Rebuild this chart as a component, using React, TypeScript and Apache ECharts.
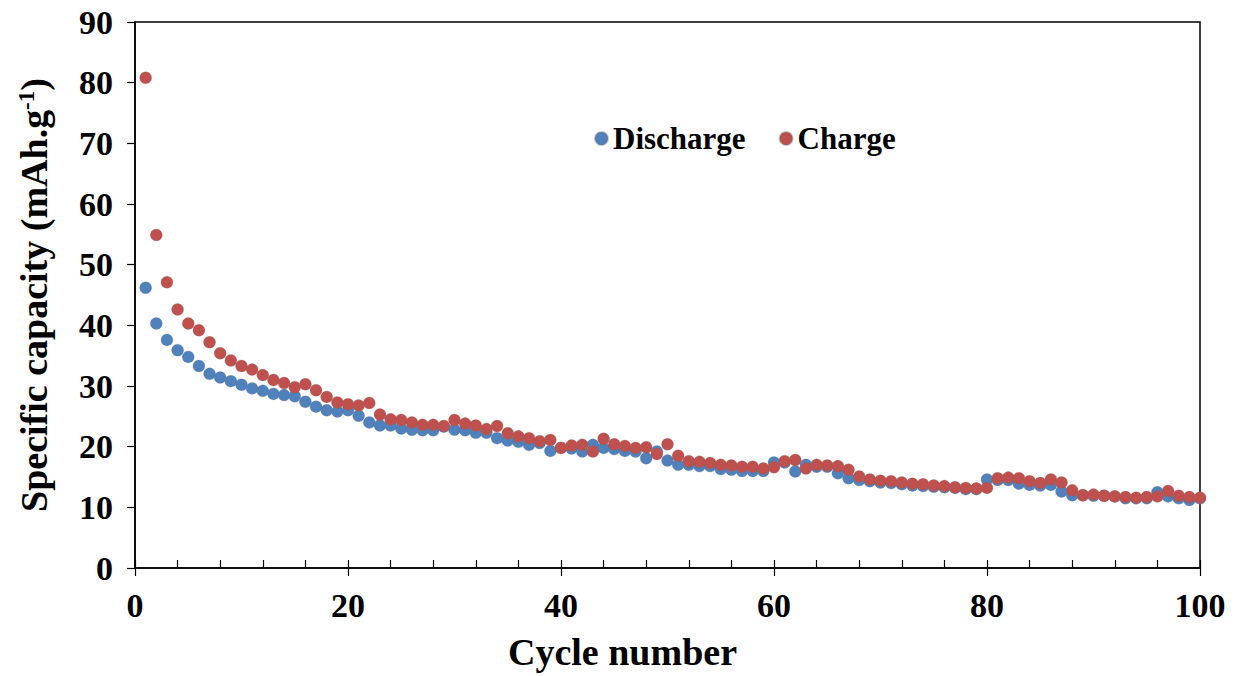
import React, { useEffect, useRef } from "react";
import * as echarts from "echarts";

const discharge: number[] = [
  46.2, 40.3, 37.6, 35.9, 34.8, 33.3, 32.0, 31.4, 30.8, 30.2,
  29.6, 29.2, 28.7, 28.5, 28.3, 27.4, 26.6, 26.0, 25.8, 26.0,
  25.1, 24.0, 23.5, 23.5, 23.0, 22.8, 22.7, 22.7, 23.3, 22.8,
  22.7, 22.3, 22.3, 21.4, 21.0, 20.8, 20.3, 20.6, 19.3, 19.8,
  19.7, 19.2, 20.3, 19.8, 19.6, 19.3, 19.2, 18.1, 19.2, 17.7,
  17.0, 17.0, 16.8, 16.8, 16.3, 16.2, 16.0, 16.0, 16.0, 17.4,
  17.4, 15.9, 17.0, 16.7, 16.7, 15.6, 14.8, 14.5, 14.3, 14.1,
  14.0, 13.8, 13.6, 13.5, 13.4, 13.3, 13.2, 13.0, 13.0, 14.6,
  14.5, 14.5, 13.9, 13.7, 13.6, 13.7, 12.6, 12.0, 12.0, 11.9,
  11.9, 11.8, 11.5, 11.5, 11.5, 12.5, 11.8, 11.5, 11.2, 11.5,
];

const charge: number[] = [
  80.8, 54.9, 47.1, 42.6, 40.3, 39.2, 37.2, 35.4, 34.2, 33.3,
  32.7, 31.8, 31.0, 30.5, 29.8, 30.3, 29.3, 28.2, 27.3, 27.0,
  26.8, 27.2, 25.3, 24.5, 24.4, 24.0, 23.6, 23.6, 23.4, 24.4,
  23.8, 23.5, 22.9, 23.4, 22.2, 21.7, 21.4, 20.9, 21.1, 19.8,
  20.2, 20.3, 19.2, 21.3, 20.4, 20.1, 19.8, 19.9, 18.8, 20.4,
  18.5, 17.6, 17.5, 17.3, 17.0, 16.9, 16.7, 16.7, 16.4, 16.6,
  17.6, 17.8, 16.4, 17.0, 16.9, 16.8, 16.2, 15.1, 14.6, 14.4,
  14.3, 14.1, 13.9, 13.8, 13.6, 13.5, 13.3, 13.2, 13.1, 13.2,
  14.8, 14.9, 14.8, 14.3, 14.0, 14.6, 14.1, 12.8, 12.0, 12.1,
  11.9, 11.8, 11.7, 11.6, 11.7, 11.8, 12.7, 11.9, 11.7, 11.6,
];

const seriesNames = ["Discharge", "Charge"];
const xAxisTitle = "Cycle number";
const yAxisTitle = "Specific capacity (mAh.g{sup|-1})";

const FONT = "'Liberation Serif', 'Times New Roman', serif";
const BLUE = "#4F81BD";
const RED = "#C0504D";

export default function App() {
  const ref = useRef<HTMLDivElement>(null);
  useEffect(() => {
    if (!ref.current) return;
    document.body.style.margin = "0";
    document.body.style.overflow = "hidden";
    const chart = echarts.init(ref.current, null, { renderer: "svg" });
    const toPairs = (arr: number[]) => arr.map((v, i) => [i + 1, v]);
    chart.setOption({
      animation: false,
      backgroundColor: "#ffffff",
      grid: {
        left: 135,
        right: 38,
        top: 22,
        bottom: 108,
        containLabel: false,
        outerBoundsMode: "none",
        show: true,
        borderColor: "#000",
        borderWidth: 1.5,
        backgroundColor: "transparent",
      },
      legend: {
        left: 589,
        top: 118,
        itemGap: 33,
        itemWidth: 13,
        itemHeight: 13,
        icon: "circle",
        textStyle: { fontFamily: FONT, fontWeight: "bold", fontSize: 31, color: "#000" },
        data: seriesNames,
      },
      xAxis: [
        {
          type: "value",
          position: "bottom",
          min: 0,
          max: 100,
          interval: 20,
          name: xAxisTitle,
          nameLocation: "middle",
          nameGap: 65,
          nameTextStyle: {
            fontFamily: FONT,
            fontWeight: "bold",
            fontSize: 38,
            color: "#000",
            padding: [0, 90, 0, 0],
          },
          axisLine: { lineStyle: { color: "#000", width: 1.5 } },
          axisTick: { show: true, inside: false, length: 8, lineStyle: { color: "#000", width: 1.2 } },
          axisLabel: { fontFamily: FONT, fontWeight: "bold", fontSize: 34, color: "#000", margin: 20 },
          splitLine: { show: false },
        },
        {
          type: "value",
          position: "bottom",
          min: 0,
          max: 100,
          interval: 4,
          axisLine: { show: false },
          axisTick: { show: true, inside: true, length: 8, lineStyle: { color: "#000", width: 1.2 } },
          axisLabel: { show: false },
          splitLine: { show: false },
        },
      ],
      yAxis: {
        type: "value",
        min: 0,
        max: 90,
        interval: 10,
        name: yAxisTitle,
        nameLocation: "middle",
        nameGap: 82,
        nameTextStyle: {
          fontFamily: FONT,
          fontWeight: "bold",
          fontSize: 38,
          color: "#000",
          rich: {
            sup: { fontFamily: FONT, fontWeight: "bold", fontSize: 23, color: "#000", verticalAlign: "top", padding: [0, 0, 14, 0] },
          },
        },
        axisLine: { lineStyle: { color: "#000", width: 1.5 } },
        axisTick: { show: true, inside: false, length: 8, lineStyle: { color: "#000", width: 1.2 } },
        axisLabel: { fontFamily: FONT, fontWeight: "bold", fontSize: 34, color: "#000", margin: 22 },
        splitLine: { show: false },
      },
      series: [
        {
          name: seriesNames[0],
          type: "scatter",
          symbol: "circle",
          symbolSize: 12,
          itemStyle: { color: BLUE, opacity: 1, borderColor: "rgba(110,110,110,0.35)", borderWidth: 0.6 },
          data: toPairs(discharge),
        },
        {
          name: seriesNames[1],
          type: "scatter",
          symbol: "circle",
          symbolSize: 12,
          itemStyle: { color: RED, opacity: 1, borderColor: "rgba(110,110,110,0.35)", borderWidth: 0.6 },
          data: toPairs(charge),
        },
      ],
    });
    return () => chart.dispose();
  }, []);
  return <div ref={ref} style={{ width: 1238, height: 676 }} />;
}
